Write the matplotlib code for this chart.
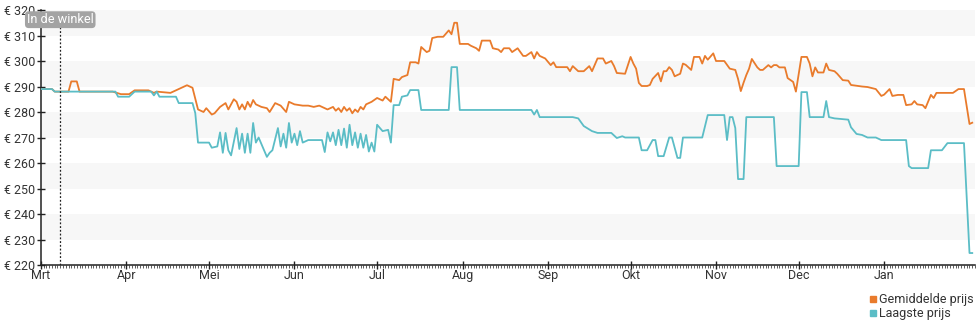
import numpy as np
import matplotlib
matplotlib.use("Agg")
import matplotlib.pyplot as plt
import matplotlib.dates as mdates
from matplotlib.lines import Line2D

plt.rcParams['font.family'] = ['Roboto', 'DejaVu Sans']

start = np.datetime64('2023-03-01')

# gemiddelde prijs: (dag sinds 1 maart, prijs)
gem_dag = [0, 4, 5, 10, 11, 13, 14, 26, 29, 32, 34, 39, 41, 42, 47, 50, 53, 55, 57, 59,
           60, 62, 63, 65, 67, 68, 70, 71, 72, 73, 74, 75, 76, 77, 78, 80, 82, 83, 85, 87,
           89, 90, 92, 95, 97, 99, 101, 104, 106, 107, 108, 109, 110, 111, 112, 113, 114, 115, 116, 117,
           118, 120, 122, 124, 125, 126, 127, 128, 130, 131, 133, 134, 136, 137, 138, 140, 141, 142, 144, 146,
           148, 149, 150, 151, 152, 155, 156, 158, 159, 160, 163, 164, 166, 167, 168, 170, 171, 173, 175, 176,
           178, 179, 180, 181, 183, 185, 186, 187, 191, 192, 193, 195, 197, 199, 200, 202, 204, 205, 207, 208,
           209, 212, 214, 215, 216, 217, 218, 220, 221, 222, 224, 225, 226, 227, 228, 229, 230, 232, 233, 234,
           236, 237, 239, 240, 241, 242, 244, 245, 248, 250, 252, 253, 254, 255, 256, 257, 258, 260, 261, 262,
           264, 265, 266, 267, 268, 270, 271, 273, 274, 276, 278, 279, 280, 281, 282, 284, 285, 286, 288, 289,
           291, 293, 294, 296, 298, 300, 303, 305, 306, 308, 309, 311, 313, 314, 316, 317, 318, 320, 321, 323,
           324, 325, 331, 333, 335, 337, 338]
gem_prijs = [289, 289, 288, 288, 292, 292, 288, 288, 287, 287, 288.5, 288.5, 287.5, 288, 287.5, 289, 290.5, 289.5, 281, 280,
             281.5, 279, 279.5, 282, 283.5, 281, 285, 284, 281, 283, 281, 284, 282, 284.7, 283, 282, 281.5, 280, 283.5, 282.5,
             280, 284, 283, 282.5, 282.5, 282, 282.5, 281, 282, 280.5, 281.5, 280, 282, 280.5, 281.5, 279.5, 281, 280, 282, 281,
             283, 284, 285.5, 284.5, 286, 285, 284, 293, 292.5, 293.7, 294.5, 299.5, 299.5, 299, 305.5, 303.5, 304, 309, 309.5, 309.5,
             312, 310.5, 315, 315, 306.7, 306.7, 306, 305, 304, 308, 308, 305, 304.5, 303.5, 305, 305, 303.5, 305, 302, 302,
             303.5, 301, 303.5, 302, 301, 298.4, 299.5, 297.6, 297.6, 296, 298, 296, 296, 298, 296, 301, 301, 299, 300, 298,
             295.3, 295, 301.6, 299, 297, 291.4, 290.2, 290.2, 290.6, 293, 295.3, 292, 296, 296, 297.6, 296.5, 294, 295, 299, 298.5,
             296.5, 301.6, 301.6, 299, 302, 300.5, 303, 300, 300, 297, 296.5, 293, 288.2, 291.5, 294.5, 297, 300.8, 297.5, 296.5, 296.5,
             298.4, 297.5, 298.4, 298.4, 297.5, 297.5, 293.3, 291.8, 288, 301.6, 301.6, 299, 294, 297.5, 295.5, 295.5, 299, 296.5, 296, 295,
             292.5, 292.3, 290.6, 290.3, 290, 289.8, 289, 286.3, 286.8, 289, 286.3, 286.7, 286.7, 282.7, 283, 284.3, 283, 282.7, 281.5, 286.7,
             285.5, 287.5, 287.5, 289, 289, 275.3, 275.8]

# laagste prijs
laag_dag = [0, 4, 5, 27, 28, 32, 34, 40, 41, 42, 43, 49, 50, 55, 56, 57, 61, 62, 64, 65,
            66, 67, 68, 69, 71, 72, 73, 74, 75, 76, 77, 78, 79, 81, 82, 83, 84, 86, 87, 88,
            89, 90, 91, 92, 93, 94, 95, 97, 102, 103, 104, 105, 106, 107, 108, 109, 110, 111, 112, 113,
            114, 115, 116, 117, 118, 119, 120, 121, 122, 124, 126, 127, 128, 130, 131, 133, 134, 137, 138, 148,
            149, 151, 152, 178, 179, 180, 181, 193, 195, 197, 200, 202, 207, 209, 211, 212, 217, 218, 220, 222,
            223, 224, 226, 228, 229, 231, 232, 233, 240, 242, 248, 249, 250, 251, 252, 253, 255, 256, 266, 267,
            275, 276, 278, 279, 284, 285, 286, 288, 293, 294, 296, 298, 300, 303, 305, 314, 315, 316, 322, 323,
            327, 329, 335, 337, 338]
laag_prijs = [289, 289, 288, 288, 286, 286, 288, 288, 286.5, 288, 286, 286, 283.5, 283.5, 279.6, 268, 268, 266, 266.5, 272,
              264, 271.8, 265, 263, 273.7, 265.5, 271.5, 264, 271.5, 264, 275.7, 268, 270, 265, 262.4, 264, 265, 273.7, 266.5, 271.5,
              266, 275.7, 268, 271.5, 267, 272.5, 268, 269, 269, 264.3, 272, 268.5, 272, 267, 273, 267, 273.5, 266, 275, 267,
              272, 266, 271.5, 266, 271, 264.5, 268, 264.5, 275, 272.5, 273, 268, 282.7, 282.7, 286, 286.5, 288.6, 288.6, 280.8, 280.8,
              297.6, 297.6, 280.8, 280.8, 279, 280.8, 278, 278, 277.5, 274.5, 272.5, 271.8, 271.8, 269.8, 270.5, 270, 270, 265, 265, 269,
              269, 262.7, 262.7, 270, 270, 262, 262, 270, 270, 278.8, 278.8, 269, 278, 278, 273.7, 253.7, 253.7, 278, 278, 258.8,
              258.8, 287.8, 287.8, 278, 278, 284.3, 278, 277.5, 277, 274, 271.4, 271, 270, 270, 269, 269, 258.8, 258, 258, 265,
              265, 267.8, 267.8, 224.7, 224.7]

maanden = ['Mrt', 'Apr', 'Mei', 'Jun', 'Jul', 'Aug', 'Sep', 'Okt', 'Nov', 'Dec', 'Jan']

oranje = '#e97b2c'
blauw = '#5bbdc6'

gem_x = start + np.array(gem_dag).astype('timedelta64[D]')
laag_x = start + np.array(laag_dag).astype('timedelta64[D]')

fig = plt.figure(figsize=(9.8, 3.25), dpi=100)
ax = fig.add_axes([0.0418, 0.1846, 0.9531, 0.7846])

# grijze banden
for lo in range(230, 320, 20):
    ax.axhspan(lo, lo + 10, color='#f7f7f7', lw=0, zorder=0)

ax.plot(gem_x, gem_prijs, color=oranje, lw=1.3, zorder=3)
ax.plot(laag_x, laag_prijs, color=blauw, lw=1.3, zorder=3)

# in de winkel
winkel = start + np.timedelta64(7, 'D')
ax.axvline(winkel, color='#222222', lw=0.9, ls=(0, (1.5, 1.5)), zorder=4)
ax.text(winkel, 316.2, 'In de winkel', ha='center', va='center', color='white', fontsize=9.2,
        bbox=dict(boxstyle='round,pad=0.15,rounding_size=0.3', fc='#a3a3a3', ec='none'), zorder=5)

ax.set_ylim(220, 320)
ax.set_xlim(start, start + np.timedelta64(339, 'D'))
ax.set_yticks(range(220, 321, 10))
ax.set_yticklabels(['€ %d' % v for v in range(220, 321, 10)])

ticks = np.arange(np.datetime64('2023-03'), np.datetime64('2024-02'), dtype='datetime64[M]').astype('datetime64[D]')
ax.set_xticks(ticks)
ax.set_xticklabels(maanden)
ax.xaxis.set_minor_locator(mdates.DayLocator())

for s in ['top', 'right']:
    ax.spines[s].set_visible(False)
for s in ['left', 'bottom']:
    ax.spines[s].set_color('#222222')
    ax.spines[s].set_linewidth(1.1)

ax.tick_params(axis='y', direction='inout', length=6, width=1, color='#222222',
               labelsize=9, labelcolor='#333333', pad=1)
ax.tick_params(axis='x', which='major', direction='inout', length=6, width=1, color='#222222',
               labelsize=9, labelcolor='#333333', pad=0)
ax.tick_params(axis='x', which='minor', direction='out', length=2, width=0.6, color='#444444')

handles = [Line2D([], [], marker='s', ls='none', color=oranje, markersize=5),
           Line2D([], [], marker='s', ls='none', color=blauw, markersize=5)]
fig.legend(handles, ['Gemiddelde prijs', 'Laagste prijs'], loc='lower right',
           bbox_to_anchor=(1.0, -0.005), frameon=False, fontsize=9, handlelength=0.6,
           handletextpad=0.2, labelspacing=0.1, borderaxespad=0.1, labelcolor='#333333')

fig.savefig('out.png', dpi=100)
